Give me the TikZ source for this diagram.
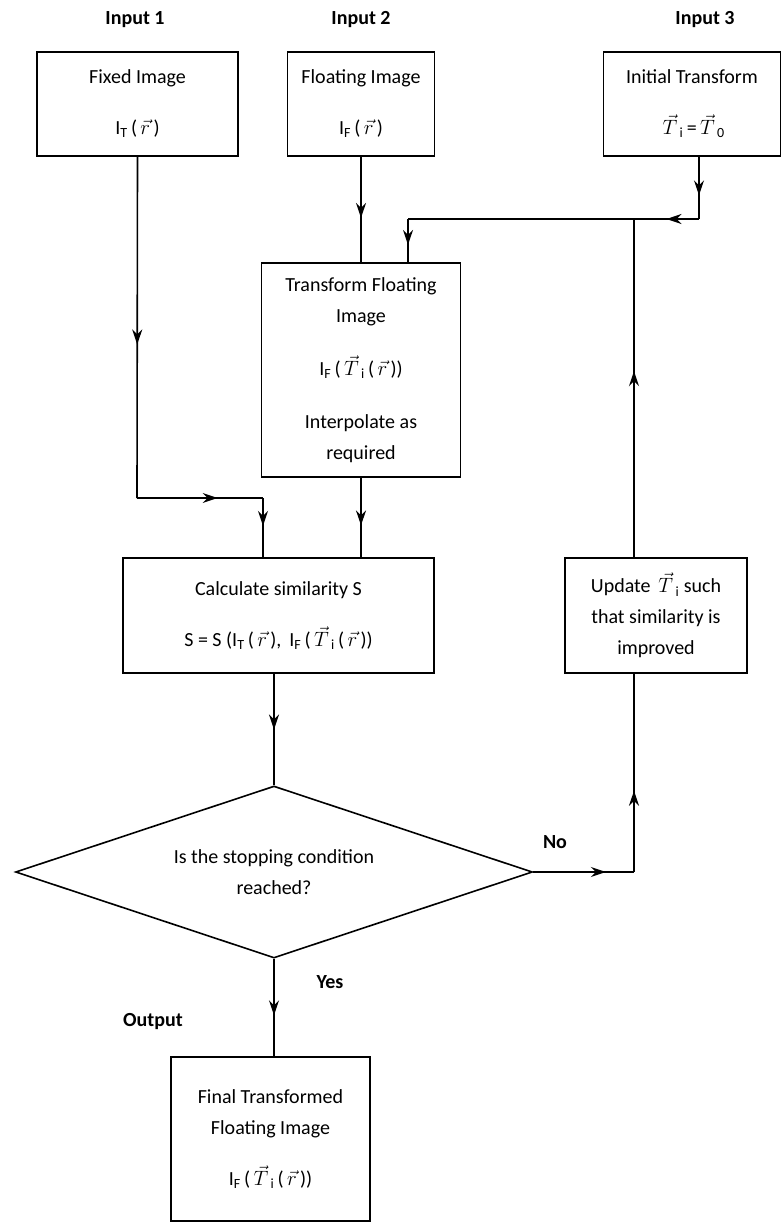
\documentclass[tikz,border=0pt]{standalone}
\usepackage{fontspec}
\setmainfont{Carlito}
\usetikzlibrary{shapes.geometric,arrows.meta,decorations.markings}

\begin{document}
\begin{tikzpicture}[x=1pt,y=-1pt,font=\fontsize{20}{31}\selectfont,
	box/.style={draw,line width=1.6pt,align=center,inner sep=0pt},
	conn/.style={line width=1.6pt},
	lbl/.style={font=\fontsize{20}{24}\selectfont\bfseries},
	ar/.style={conn,postaction={decorate},decoration={markings,mark=at position #1 with {\arrow{Stealth[length=15pt,width=10pt,inset=5pt]}}}},
	ar/.default=0.5]

\def\TI{\,\(\vec{T}\)\textsubscript{\,i}}
\def\RV{\,\(\vec{r}\)}
	\useasboundingbox (0,0) rectangle (782,1223);

	% inputs
	\node[lbl] (in1) at (135,20) {Input 1};
	\node[lbl] (in2) at (361,20) {Input 2};
	\node[lbl] (in3) at (705,20) {Input 3};
	\node[box,minimum width=201pt,minimum height=104pt] (fixed) at (137.5,104) {Fixed Image\\[20pt]I\textsubscript{T}\,(\RV\,)};
	\node[box,minimum width=147pt,minimum height=104pt] (floating) at (361,104) {Floating Image\\[20pt]I\textsubscript{F}\,(\RV\,)};
	\node[box,minimum width=177pt,minimum height=104pt] (initial) at (692,104) {Initial Transform\\[20pt]\TI\,=\,\(\vec{T}\)\textsubscript{\,0}};

	% processing
	\node[box,minimum width=199pt,minimum height=214pt] (transform) at (361,370) {Transform Floating\\Image\\[22pt]I\textsubscript{F}\,(\TI\,(\RV\,))\\[22pt]Interpolate as\\required};
	\node[box,minimum width=311pt,minimum height=115pt] (calc) at (278.5,615.5) {Calculate similarity S\\[20pt]S = S (I\textsubscript{T}\,(\RV\,),\, I\textsubscript{F}\,(\TI\,(\RV\,))};
	\node[box,minimum width=182pt,minimum height=115pt] (update) at (656,615.5) {Update \TI\ such\\that similarity is\\improved};
	\node[draw,diamond,aspect=3,line width=1.6pt,inner sep=0pt,align=center,minimum width=517pt,minimum height=172pt] (decision) at (274,872) {Is the stopping condition\\reached?};
	\node[lbl] (no) at (555,842) {No};
	\node[lbl] (yes) at (330,982) {Yes};

	% output
	\node[lbl] (out) at (153,1022) {Output};
	\node[box,minimum width=199pt,minimum height=164pt] (final) at (270.5,1139) {Final Transformed\\Floating Image\\[20pt]I\textsubscript{F}\,(\TI\,(\RV\,))};

	% connectors
	\coordinate (f1) at (137,498);
	\coordinate (f2) at (263,498);
	\coordinate (t1) at (699,219);
	\coordinate (t2) at (634,219);
	\coordinate (t3) at (408,219);
	\coordinate (n1) at (634,872);
	\draw[ar=0.55] (fixed.south) -- (f1);
	\draw[ar=0.64] (f1) -- (f2);
	\draw[ar=0.47] (f2) -- (f2 |- calc.north);
	\draw[ar=0.58] (floating.south) -- (transform.north);
	\draw[ar=0.62] (t1 |- initial.south) -- (t1);
	\draw[ar=0.5] (t1) -- (t2);
	\draw[conn] (t2) -- (t3);
	\draw[ar=0.6] (t3) -- (t3 |- transform.north);
	\draw[ar=0.6] (transform.south) -- (transform.south |- calc.north);
	\draw[ar=0.5] (decision.north |- calc.south) -- (decision.north);
	\draw[ar=0.72] (decision.east) -- (n1);
	\draw[ar=0.41] (n1) -- (update.south -| n1);
	\draw[ar=0.55] (update.north -| t2) -- (t2);
	\draw[ar=0.58] (decision.south) -- (decision.south |- final.north);

\end{tikzpicture}
\end{document}
